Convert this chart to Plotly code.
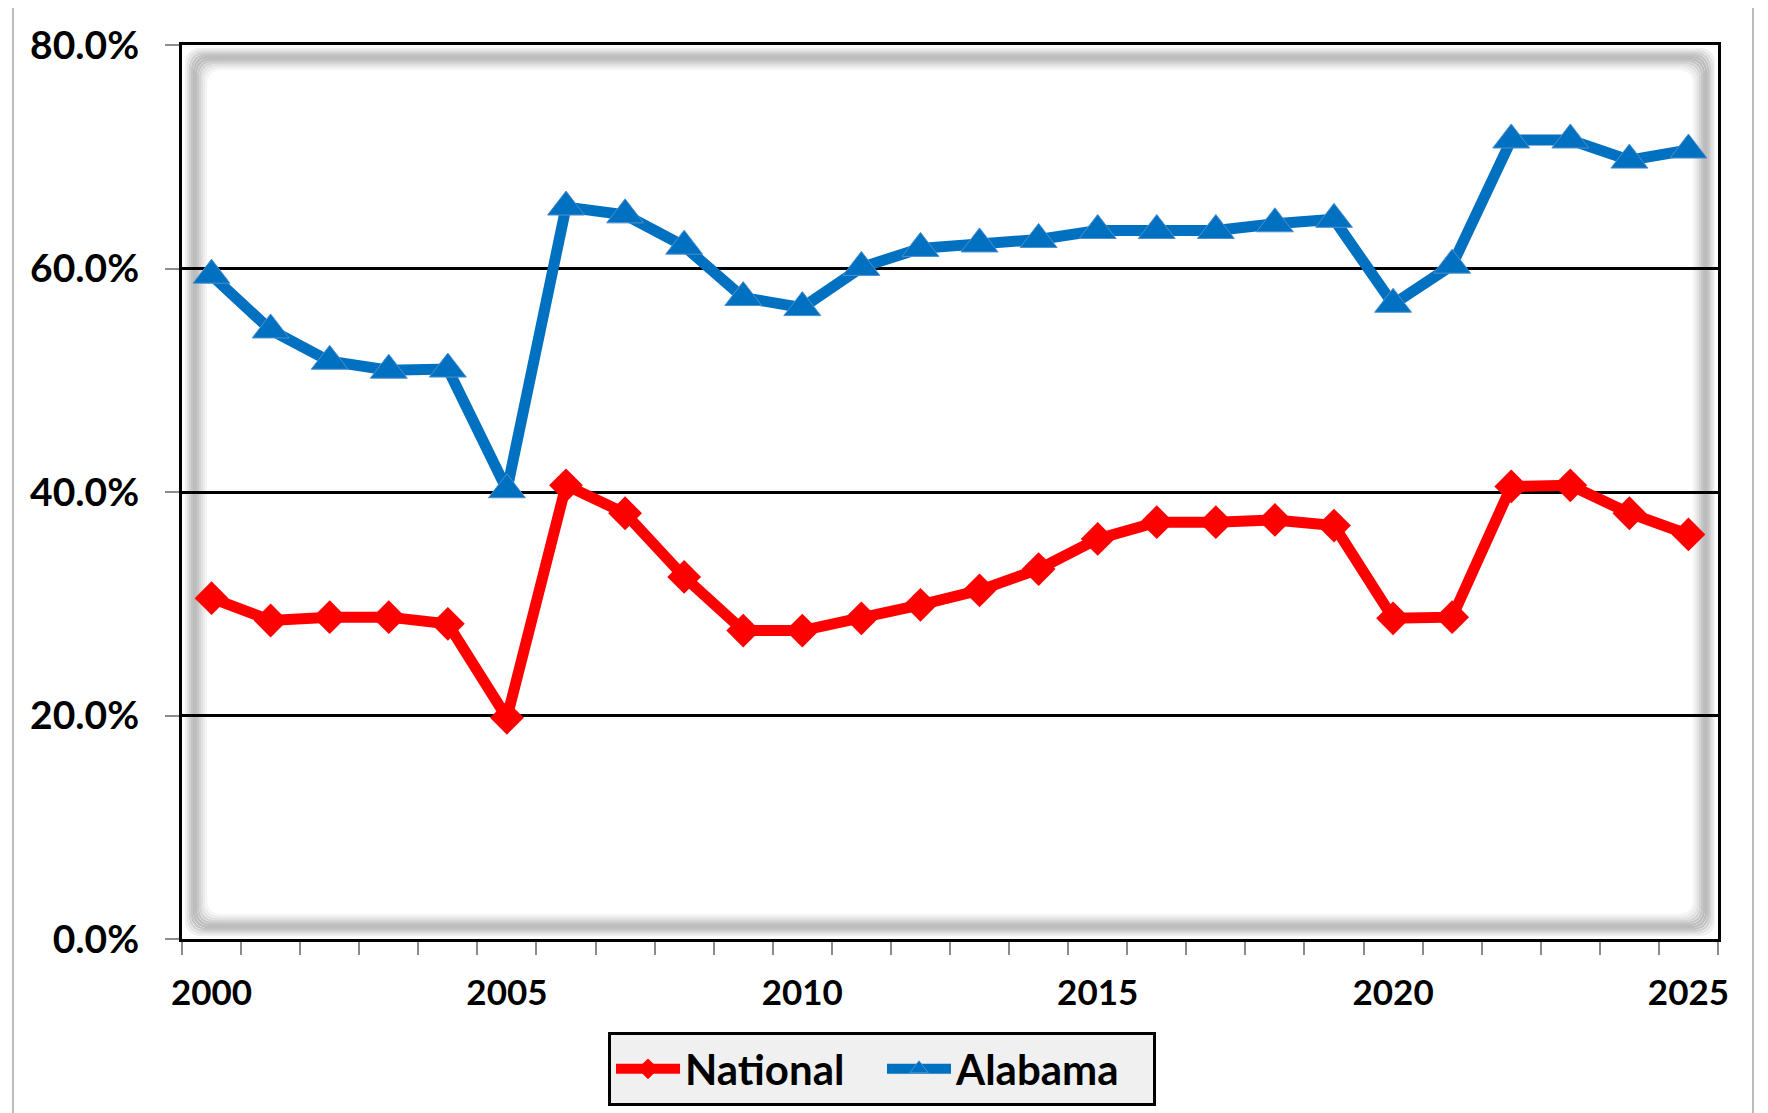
import plotly.graph_objects as go

years = list(range(2000, 2026))
national = [30.5, 28.5, 28.8, 28.8, 28.2, 19.8, 40.6, 38.1, 32.4, 27.6, 27.6, 28.7, 29.9,
            31.2, 33.1, 35.8, 37.3, 37.3, 37.5, 37.0, 28.7, 28.8, 40.5, 40.6, 38.1, 36.2]
alabama = [59.4, 54.5, 51.7, 50.9, 51.0, 40.2, 65.5, 64.8, 62.0, 57.4, 56.5, 60.1, 61.8,
           62.2, 62.6, 63.4, 63.4, 63.4, 64.0, 64.4, 56.8, 60.3, 71.5, 71.5, 69.7, 70.6]
label_years = years[::5]

# page body has an 8px default margin; compensate so the plot lands where the reference has it
OFF = 8
W, H = 1768 - OFF, 1113 - OFF
PL, PR, PT, PB = 182, 1718, 45, 939          # absolute plot-area edges in the page
ML, MT = PL - OFF, PT - OFF
MR, MB = (W + OFF) - PR, (H + OFF) - PB
PW, PH = PR - PL, PB - PT

FONT = "Lato"

fig = go.Figure()
fig.add_trace(go.Scatter(
    x=years, y=national, name="National", mode="lines+markers",
    line=dict(color="#FF0000", width=11),
    marker=dict(symbol="diamond", size=26, color="#FF0000", line=dict(width=0)),
))
fig.add_trace(go.Scatter(
    x=years, y=alabama, name="Alabama", mode="lines+markers",
    line=dict(color="#0070C0", width=11),
    marker=dict(symbol="triangle-up", size=32, color="#0070C0", line=dict(color="#4F8FD0", width=1)),
))


def px(x):
    return x / PW


def py(y):
    return 1 - y / PH


def rrect(inset, rad):
    x0, x1 = inset, PW - inset
    y0, y1 = inset, PH - inset
    r = rad
    pts = [
        f"M{px(x0 + r)},{py(y0)}",
        f"L{px(x1 - r)},{py(y0)}",
        f"Q{px(x1)},{py(y0)} {px(x1)},{py(y0 + r)}",
        f"L{px(x1)},{py(y1 - r)}",
        f"Q{px(x1)},{py(y1)} {px(x1 - r)},{py(y1)}",
        f"L{px(x0 + r)},{py(y1)}",
        f"Q{px(x0)},{py(y1)} {px(x0)},{py(y1 - r)}",
        f"L{px(x0)},{py(y0 + r)}",
        f"Q{px(x0)},{py(y0)} {px(x0 + r)},{py(y0)}",
        "Z",
    ]
    return " ".join(pts)


glow = [(4, "#f0f0f0"), (6, "#e2e2e2"), (8, "#d2d2d2"), (10, "#c4c4c4"), (12, "#bcbcbc"),
        (14, "#bdbdbd"), (16, "#c6c6c6"), (18, "#d3d3d3"), (20, "#e0e0e0"), (22, "#ebebeb"),
        (24, "#f5f5f5")]
shapes = []
for inset, col in glow:
    shapes.append(dict(type="path", path=rrect(inset, 16), xref="paper", yref="paper",
                       line=dict(color=col, width=2.3), layer="below"))

# outer chart frame (absolute page px -> paper)
shapes.append(dict(type="rect", xref="paper", yref="paper",
                   x0=px(13 - PL), x1=px(1753 - PL),
                   y0=py(1130 - PT), y1=py(6 - PT),
                   line=dict(color="#a6a6a6", width=1.5), layer="below"))

fig.update_layout(
    width=W, height=H,
    margin=dict(l=ML, r=MR, t=MT, b=MB, autoexpand=False),
    paper_bgcolor="white", plot_bgcolor="white",
    font=dict(family=FONT, size=34, color="black", weight="bold"),
    shapes=shapes,
    showlegend=True,
    legend=dict(orientation="h", x=px(882 - PL), xanchor="center", y=py(1032 - PT), yanchor="top",
                bgcolor="#F0F0F0", bordercolor="black", borderwidth=3,
                font=dict(family=FONT, size=42, color="black", weight="bold"),
                itemwidth=64, entrywidth=192, entrywidthmode="pixels"),
    xaxis=dict(
        range=[years[0] - 0.5, years[-1] + 0.5],
        tickvals=label_years, ticktext=[str(y) for y in label_years],
        ticks="", showgrid=False, zeroline=False,
        showline=True, linecolor="black", linewidth=3, mirror=True,
        ticklabelstandoff=21,
        tickfont=dict(family=FONT, size=35, color="black", weight="bold"),
        minor=dict(tickvals=[y - 0.5 for y in years] + [years[-1] + 0.5],
                   ticks="outside", ticklen=13, tickcolor="#8c8c8c", tickwidth=1.5,
                   showgrid=False),
    ),
    yaxis=dict(
        range=[0, 80], dtick=20, tick0=0,
        tickformat=".1f", ticksuffix="%",
        ticks="outside", ticklen=14, tickcolor="#8c8c8c", tickwidth=1.5,
        showgrid=True, gridcolor="black", gridwidth=3,
        zeroline=False,
        showline=True, linecolor="black", linewidth=3, mirror=True,
        ticklabelstandoff=18,
        tickfont=dict(family=FONT, size=39, color="black", weight="bold"),
    ),
)

fig.write_html("out.html")
